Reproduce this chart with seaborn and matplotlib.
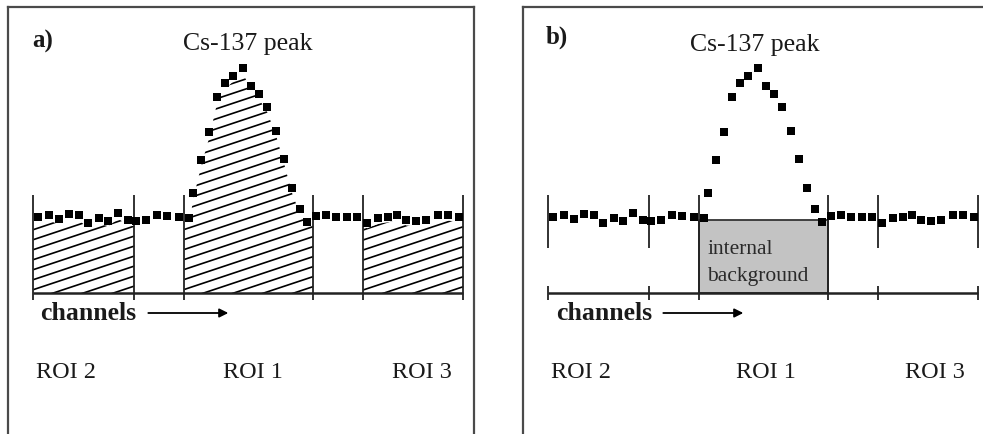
import numpy as np
import pandas as pd
import matplotlib
matplotlib.use("Agg")
import matplotlib.pyplot as plt
import seaborn as sns
from matplotlib.collections import LineCollection

# ---------------- data (channel, counts) ----------------
left_ch = [0.0, 1.1, 2.1, 3.1, 4.1, 5.0, 6.1, 7.0, 8.0, 9.0, 9.8, 10.8, 11.9, 12.9, 14.1, 15.1]
left_counts = [30.5, 31.2, 29.5, 31.6, 31.2, 28.1, 29.9, 28.9, 31.9, 29.2, 28.9, 29.2, 31.2, 30.8, 30.3, 29.9]
peak_ch = [15.5, 16.3, 17.1, 17.9, 18.7, 19.5, 20.5, 21.3, 22.1, 22.9, 23.8, 24.6, 25.4, 26.2, 26.9]
peak_counts = [39.9, 53.2, 64.5, 78.5, 83.9, 86.8, 89.9, 82.8, 79.6, 74.5, 64.9, 53.6, 41.9, 33.5, 28.5]
right_ch = [27.8, 28.8, 29.8, 30.9, 31.9, 32.9, 34.0, 35.0, 35.9, 36.8, 37.8, 38.8, 40.0, 41.0, 42.1]
right_counts = [30.8, 31.2, 30.5, 30.5, 30.5, 28.1, 29.9, 30.5, 31.2, 29.2, 28.9, 29.2, 31.2, 31.2, 30.3]

roi_edges = [-0.5, 9.6, 14.6, 27.5, 32.5, 42.5]
roi_names = ["ROI 2", "ROI 1", "ROI 3"]
panel_labels = ["a)", "b)"]
peak_label = "Cs-137 peak"
axis_label = "channels"
box_label = "internal\nbackground"
internal_bg_level = 29.2

df = pd.DataFrame({
    "channel": left_ch + peak_ch + right_ch,
    "counts": left_counts + peak_counts + right_counts,
})

# ---------------- style ----------------
sns.set_theme(style="white")
plt.rcParams["font.family"] = ["Liberation Serif", "DejaVu Serif"]

W, H = 983, 434
fig = plt.figure(figsize=(W / 100, H / 100), dpi=100)
fig.patch.set_facecolor("white")

XLIM = (-3.03, 43.57)
YLIM = (-56.4, 114.4)
TXT = "#1a1a1a"


def setup(ax, show_right):
    ax.set_xlim(*XLIM)
    ax.set_ylim(*YLIM)
    ax.set_xticks([])
    ax.set_yticks([])
    ax.set_xlabel("")
    ax.set_ylabel("")
    for side in ["left", "top", "right", "bottom"]:
        ax.spines[side].set_color("#4a4a4a")
        ax.spines[side].set_linewidth(1.6)
    ax.spines["bottom"].set_visible(False)
    ax.spines["right"].set_visible(show_right)
    ax.set_facecolor("white")


def hatch_region(ax, x0, x1):
    x = df["channel"].to_numpy()
    y = df["counts"].to_numpy()
    xs = np.concatenate([[x0], x[(x > x0) & (x < x1)], [x1]])
    ys = np.interp(xs, x, y) - 2.2
    poly = ax.fill_between(xs, 0, ys, facecolor="none", edgecolor="none")
    path = poly.get_paths()[0]
    offs = np.arange(-90, 120, 4.0)
    segs = [[(-5, c - 1.33 * 5), (46, c + 1.33 * 46)] for c in offs]
    lc = LineCollection(segs, colors="black", linewidths=1.2)
    ax.add_collection(lc)
    lc.set_clip_path(path, ax.transData)


def common(ax, label, label_xy, peak_xy, chan_x, roi_x):
    ax.hlines(0, roi_edges[0], roi_edges[-1], color="#222222", lw=1.8, zorder=3)
    ax.text(*label_xy, label, fontsize=18, fontweight="bold", color=TXT,
            ha="left", va="center")
    ax.text(*peak_xy, peak_label, fontsize=18.5, color=TXT, ha="center", va="center")
    ax.text(chan_x, -8, axis_label, fontsize=18.5, fontweight="bold", color=TXT,
            ha="left", va="center")
    ax.annotate("", xy=(19.0, -8), xytext=(11.0, -8),
                arrowprops=dict(arrowstyle="-|>", color="black", lw=1.3,
                                mutation_scale=13, shrinkA=0, shrinkB=0))
    for name, xc in zip(roi_names, roi_x):
        ax.text(xc, -32, name, fontsize=17.5, color=TXT, ha="center", va="center")


# ---------------- panel a ----------------
ax_a = fig.add_axes([8 / W, 0, 466 / W, 427 / H])
setup(ax_a, True)
for i0, i1 in [(0, 1), (2, 3), (4, 5)]:
    hatch_region(ax_a, roi_edges[i0], roi_edges[i1])
ax_a.vlines(roi_edges, -2.8, 39.2, color="#222222", lw=1.3, zorder=3)
sns.scatterplot(data=df, x="channel", y="counts", marker="s", s=30, color="black",
                linewidth=0, ax=ax_a, zorder=5, legend=False)
common(ax_a, panel_labels[0], (-0.6, 100.5), (20.9, 99.5), 0.2, [2.8, 21.5, 38.4])
setup(ax_a, True)

# ---------------- panel b ----------------
ax_b = fig.add_axes([523 / W, 0, 466 / W, 427 / H])
setup(ax_b, False)
ax_b.fill_between([roi_edges[2], roi_edges[3]], 0, internal_bg_level,
                  facecolor="#c3c3c3", edgecolor="#333333", lw=1.3, zorder=2)
outer = [roi_edges[i] for i in (0, 1, 4, 5)]
inner = [roi_edges[i] for i in (2, 3)]
ax_b.vlines(outer, 18.0, 39.2, color="#222222", lw=1.3, zorder=3)
ax_b.vlines(outer, -2.8, 2.8, color="#222222", lw=1.3, zorder=3)
ax_b.vlines(inner, -2.8, 39.2, color="#222222", lw=1.3, zorder=3)
sns.scatterplot(data=df, x="channel", y="counts", marker="s", s=30, color="black",
                linewidth=0, ax=ax_b, zorder=5, legend=False)
ax_b.text(15.4, 12.0, box_label, fontsize=15.5, color="#2a2a2a", ha="left",
          va="center", linespacing=1.55, zorder=4)
common(ax_b, panel_labels[1], (-0.8, 102.4), (20.1, 99.2), 0.3, [2.8, 21.3, 38.2])
setup(ax_b, False)

fig.savefig("out.png", dpi=100, facecolor="white")
